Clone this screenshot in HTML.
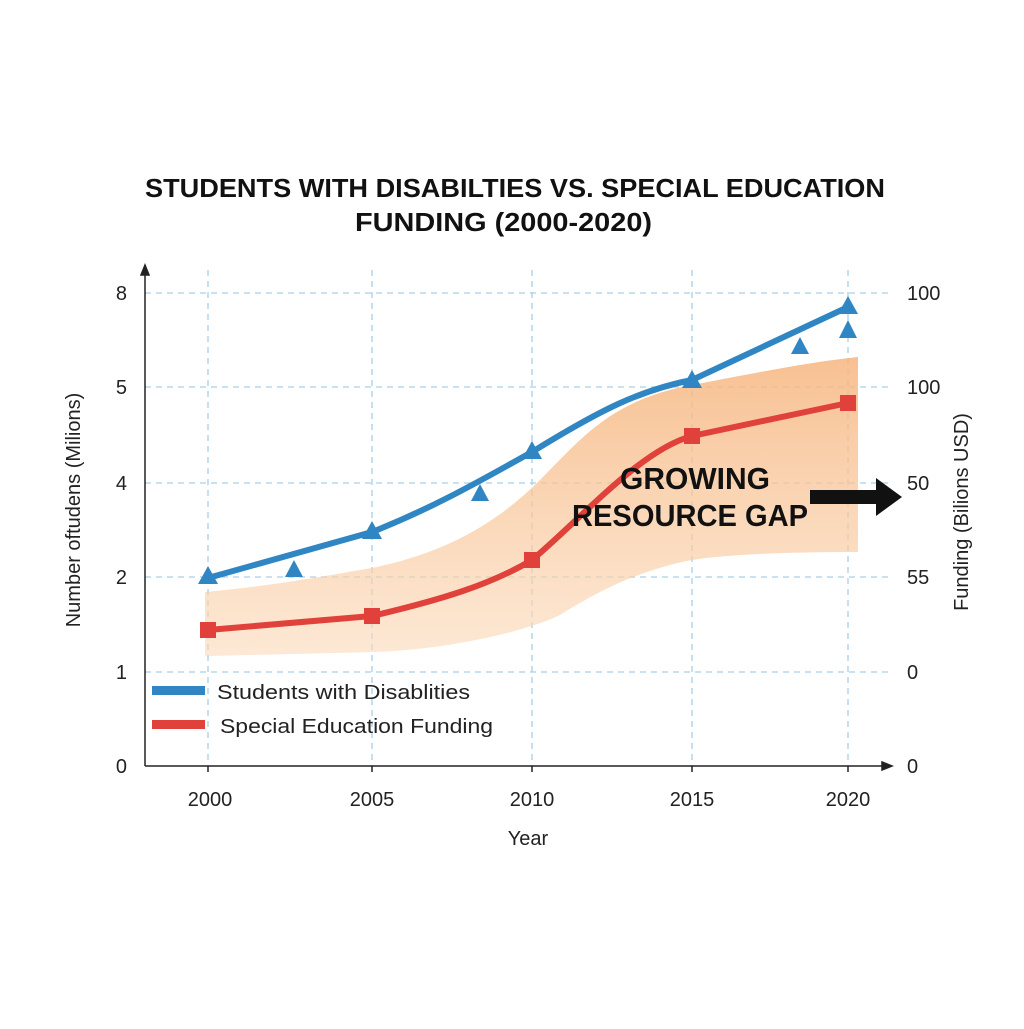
<!DOCTYPE html>
<html><head><style>
body{margin:0;background:#fff;}
svg text{font-family:"Liberation Sans",sans-serif;}
</style></head><body>
<svg width="1024" height="1024" viewBox="0 0 1024 1024">
<defs>
<linearGradient id="bg" x1="0" y1="0" x2="0" y2="1">
<stop offset="0" stop-color="#f6b57e" stop-opacity="0.85"/>
<stop offset="1" stop-color="#fbd9b8" stop-opacity="0.6"/>
</linearGradient>
</defs>
<rect width="1024" height="1024" fill="#fff"/>
<text x="145" y="197" font-size="26" font-weight="bold" fill="#111" textLength="740" lengthAdjust="spacingAndGlyphs">STUDENTS WITH DISABILTIES VS. SPECIAL EDUCATION</text>
<text x="355" y="231" font-size="26" font-weight="bold" fill="#111" textLength="297" lengthAdjust="spacingAndGlyphs">FUNDING (2000-2020)</text>
<g stroke="#a9cfe6" stroke-width="1.3" stroke-dasharray="6,5">
<line x1="145" y1="293" x2="890" y2="293"/><line x1="145" y1="387" x2="890" y2="387"/>
<line x1="145" y1="483" x2="890" y2="483"/><line x1="145" y1="577" x2="890" y2="577"/>
<line x1="145" y1="672" x2="890" y2="672"/>
<line x1="208" y1="270" x2="208" y2="766"/><line x1="372" y1="270" x2="372" y2="766"/>
<line x1="532" y1="270" x2="532" y2="766"/><line x1="692" y1="270" x2="692" y2="766"/>
<line x1="848" y1="270" x2="848" y2="766"/>
</g>
<path d="M205,592 C280,585 330,575 372,568 C450,552 500,520 540,480 C580,440 610,400 692,385 C760,372 810,362 858,357 L858,552 C780,552 720,555 692,560 C640,570 600,590 560,615 C530,630 450,650 372,652 C300,654 250,655 205,656 Z" fill="url(#bg)"/>
<g stroke="#222" stroke-width="1.5" fill="#222">
<line x1="145" y1="766" x2="145" y2="272"/><path d="M141,275 L145,265 L149,275Z"/>
<line x1="145" y1="766" x2="885" y2="766"/><path d="M882,762 L892,766 L882,770Z"/>
<line x1="208" y1="766" x2="208" y2="772"/><line x1="372" y1="766" x2="372" y2="772"/>
<line x1="532" y1="766" x2="532" y2="772"/><line x1="692" y1="766" x2="692" y2="772"/>
<line x1="848" y1="766" x2="848" y2="772"/>
</g>
<path d="M208,630 L372,616 C440,600 490,585 532,560 C580,520 640,450 692,436 L848,403" fill="none" stroke="#e0413a" stroke-width="6"/>
<g fill="#e0413a"><rect x="200" y="622" width="16" height="16"/><rect x="364" y="608" width="16" height="16"/><rect x="524" y="552" width="16" height="16"/><rect x="684" y="428" width="16" height="16"/><rect x="840" y="395" width="16" height="16"/></g>
<path d="M208,578 L372,532 C440,505 490,475 532,452 C600,410 640,390 692,380 L848,307" fill="none" stroke="#2f86c3" stroke-width="6"/>
<g fill="#2f86c3">
<path d="M208,566 L218,584 L198,584Z"/><path d="M294,560 L303,577 L285,577Z"/><path d="M372,521 L382,539 L362,539Z"/>
<path d="M480,484 L489,501 L471,501Z"/><path d="M532,441 L542,459 L522,459Z"/><path d="M692,370 L702,388 L682,388Z"/>
<path d="M800,337 L809,354 L791,354Z"/><path d="M848,296 L858,314 L838,314Z"/><path d="M848,320 L857,338 L839,338Z"/>
</g>
<text x="620" y="489" font-size="31" font-weight="bold" fill="#111" textLength="150" lengthAdjust="spacingAndGlyphs">GROWING</text>
<text x="572" y="526" font-size="31" font-weight="bold" fill="#111" textLength="236" lengthAdjust="spacingAndGlyphs">RESOURCE GAP</text>
<rect x="810" y="490" width="70" height="14" fill="#111"/><path d="M876,478 L902,497 L876,516Z" fill="#111"/>
<rect x="152" y="686" width="53" height="9" fill="#2f86c3"/>
<text x="217" y="699" font-size="20" fill="#222" textLength="253" lengthAdjust="spacingAndGlyphs">Students with Disablities</text>
<rect x="152" y="720" width="53" height="9" fill="#e0413a"/>
<text x="220" y="733" font-size="20" fill="#222" textLength="273" lengthAdjust="spacingAndGlyphs">Special Education Funding</text>
<g font-size="20" fill="#222" text-anchor="end">
<text x="127" y="300">8</text><text x="127" y="394">5</text><text x="127" y="490">4</text>
<text x="127" y="584">2</text><text x="127" y="679">1</text><text x="127" y="773">0</text>
</g>
<g font-size="20" fill="#222">
<text x="907" y="300">100</text><text x="907" y="394">100</text><text x="907" y="490">50</text>
<text x="907" y="584">55</text><text x="907" y="679">0</text><text x="907" y="773">0</text>
</g>
<g font-size="20" fill="#222" text-anchor="middle">
<text x="210" y="806">2000</text><text x="372" y="806">2005</text><text x="532" y="806">2010</text>
<text x="692" y="806">2015</text><text x="848" y="806">2020</text>
<text x="528" y="845">Year</text>
</g>
<text transform="translate(80,510) rotate(-90)" text-anchor="middle" font-size="20" fill="#222">Number oftudens (Milions)</text>
<text transform="translate(968,512) rotate(-90)" text-anchor="middle" font-size="20" fill="#222">Funding (Bilions USD)</text>
</svg>
</body></html>
